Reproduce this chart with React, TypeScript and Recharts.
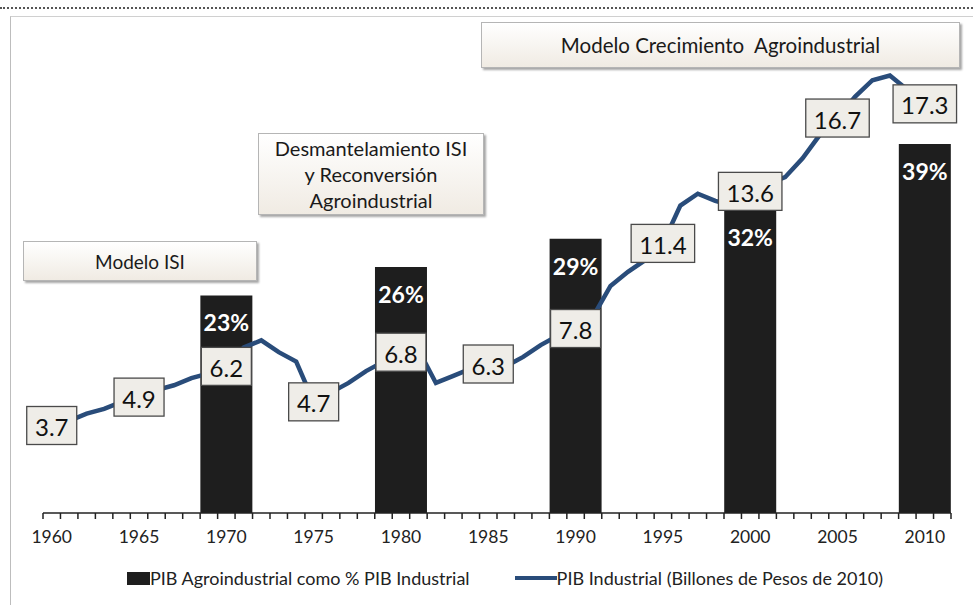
import { ComposedChart, Bar, Line, XAxis, YAxis, Legend, LabelList, Rectangle } from "recharts";

// one category per year; 2011 is an empty slot at the end of the axis
const years = [
  1960, 1961, 1962, 1963, 1964, 1965, 1966, 1967, 1968, 1969,
  1970, 1971, 1972, 1973, 1974, 1975, 1976, 1977, 1978, 1979,
  1980, 1981, 1982, 1983, 1984, 1985, 1986, 1987, 1988, 1989,
  1990, 1991, 1992, 1993, 1994, 1995, 1996, 1997, 1998, 1999,
  2000, 2001, 2002, 2003, 2004, 2005, 2006, 2007, 2008, 2009,
  2010, 2011,
];

// PIB Industrial, billones de pesos de 2010
const pibIndustrial = [
  3.7, 3.9, 4.2, 4.4, 4.7, 4.9, 5.2, 5.4, 5.7, 5.9,
  6.2, 7.0, 7.3, 6.8, 6.4, 4.7, 5.1, 5.5, 6.0, 6.4,
  6.8, 6.9, 5.5, 5.8, 6.1, 6.3, 6.2, 6.6, 7.1, 7.5,
  7.8, 8.3, 9.6, 10.2, 10.7, 11.4, 13.0, 13.5, 13.2, 13.0,
  13.6, 13.9, 14.2, 15.0, 16.0, 16.7, 17.6, 18.3, 18.5, 17.9,
  17.3, null,
];

// PIB agroindustrial como % del PIB industrial
const barYears = [1970, 1980, 1990, 2000, 2010];
const agroShare = [23, 26, 29, 32, 39];

const chartData = years.map((year, i) => {
  const b = barYears.indexOf(year);
  return { year, pib: pibIndustrial[i], agro: b >= 0 ? agroShare[b] : null };
});

const FONT = "Lato, 'Open Sans', sans-serif";
const W = 973;
const H = 605;
const MARGIN = { top: 40, right: 22, bottom: 7, left: 43 };
const TICK_SIZE = 6;
const TICK_MARGIN = 10;
const BAR_W = 52; // the bars span three yearly bands

const YearTick = (props: any) => {
  const { x, y, payload, index } = props;
  const half = payload.offset ?? (W - MARGIN.left - MARGIN.right) / years.length / 2;
  const axisY = y - TICK_SIZE - TICK_MARGIN;
  const last = index === years.length - 1;
  return (
    <g>
      <line x1={x - half} x2={x - half} y1={axisY} y2={axisY + 6} stroke="#222" strokeWidth={1.5} />
      {last && <line x1={x + half} x2={x + half} y1={axisY} y2={axisY + 6} stroke="#222" strokeWidth={1.5} />}
      {payload.value % 5 === 0 && (
        <text x={x} y={axisY + 30} textAnchor="middle" fontFamily={FONT} fontSize={17.5} fill="#222">
          {payload.value}
        </text>
      )}
    </g>
  );
};

const WideBar = (props: any) => {
  const { x, y, width, height, fill } = props;
  if (!height) return null;
  return <Rectangle x={x + width / 2 - BAR_W / 2} y={y} width={BAR_W} height={height} fill={fill} />;
};

const PctLabel = (props: any) => {
  const { x, y, width, value } = props;
  if (value == null) return null;
  return (
    <text x={x + width / 2} y={y + 27} textAnchor="middle" dominantBaseline="central"
      fontFamily={FONT} fontWeight={700} fontSize={23} fill="#fff">
      {value}%
    </text>
  );
};

const PibLabel = (props: any) => {
  const { x, y, value, index } = props;
  if (value == null || years[index] % 5 !== 0) return null;
  const txt = value.toFixed(1);
  const w = (txt.length - 1) * 13.5 + 6 + 17;
  return (
    <g>
      <rect x={x - w / 2} y={y - 19} width={w} height={38} fill="#efede8" stroke="#4a4a4a" strokeWidth={1.3} />
      <text x={x} y={y + 1} textAnchor="middle" dominantBaseline="central" fontFamily={FONT} fontSize={24} fill="#111">
        {txt}
      </text>
    </g>
  );
};

const renderLegend = (props: any) => {
  const { payload = [] } = props;
  return (
    <div style={{ display: "flex", alignItems: "center", height: 40, paddingLeft: 127, fontFamily: FONT, fontSize: 18, color: "#222" }}>
      {payload.map((entry: any, i: number) => (
        <div key={i} style={{ display: "flex", alignItems: "center", marginRight: 45 }}>
          {entry.type === "line" ? (
            <span style={{ display: "inline-block", width: 42, height: 4, background: entry.color }} />
          ) : (
            <span style={{ display: "inline-block", width: 23, height: 13, background: entry.color }} />
          )}
          <span>{entry.value}</span>
        </div>
      ))}
    </div>
  );
};

const boxStyle: React.CSSProperties = {
  position: "absolute",
  boxSizing: "border-box",
  background: "linear-gradient(#ffffff, #f0ebe3)",
  border: "1px solid #b5b5b5",
  boxShadow: "2px 2px 2px rgba(0,0,0,0.35)",
  display: "flex",
  alignItems: "center",
  justifyContent: "center",
  textAlign: "center",
  fontFamily: FONT,
  fontSize: 20,
  color: "#1a1a1a",
  whiteSpace: "pre",
};

export default function App() {
  return (
    <div style={{ position: "relative", width: W, height: H, background: "#fff" }}>
      <style>{"body{margin:0}"}</style>
      <div style={{ position: "absolute", left: 0, top: 7, width: W, borderTop: "2px dotted #555" }} />
      <div style={{ position: "absolute", left: 10, top: 16, width: W - 10, height: H - 16, borderLeft: "1px solid #bdbdbd", borderTop: "1px solid #d0d0d0" }} />
      <div style={{ position: "absolute", left: 0, top: 0 }}>
        <ComposedChart width={W} height={H} data={chartData} margin={MARGIN}>
          <XAxis
            dataKey="year"
            interval={0}
            tickLine={false}
            tickSize={TICK_SIZE}
            tickMargin={TICK_MARGIN}
            axisLine={{ stroke: "#222", strokeWidth: 1.5 }}
            height={45}
            tick={<YearTick />}
          />
          <YAxis yAxisId="pct" domain={[0, 50]} hide />
          <YAxis yAxisId="pib" orientation="right" domain={[0, 20]} hide />
          <Legend verticalAlign="bottom" content={renderLegend} wrapperStyle={{ left: 0, width: W }} />
          <Bar yAxisId="pct" dataKey="agro" name="PIB Agroindustrial como % PIB Industrial" fill="#1e1e1e"
            shape={<WideBar />} isAnimationActive={false}>
            <LabelList dataKey="agro" content={<PctLabel />} />
          </Bar>
          <Line
            yAxisId="pib"
            type="linear"
            dataKey="pib"
            name="PIB Industrial (Billones de Pesos de 2010)"
            stroke="#294c7a"
            strokeWidth={4.5}
            dot={false}
            activeDot={false}
            legendType="line"
            isAnimationActive={false}
          >
            <LabelList dataKey="pib" content={<PibLabel />} />
          </Line>
        </ComposedChart>
      </div>
      <div style={{ ...boxStyle, left: 23, top: 241, width: 234, height: 40, fontSize: 19 }}>Modelo ISI</div>
      <div style={{ ...boxStyle, left: 258, top: 133, width: 226, height: 82, lineHeight: "26px" }}>
        {"Desmantelamiento ISI\ny Reconversión\nAgroindustrial"}
      </div>
      <div style={{ ...boxStyle, left: 481, top: 22, width: 479, height: 46, fontSize: 20.5 }}>Modelo Crecimiento  Agroindustrial</div>
    </div>
  );
}
